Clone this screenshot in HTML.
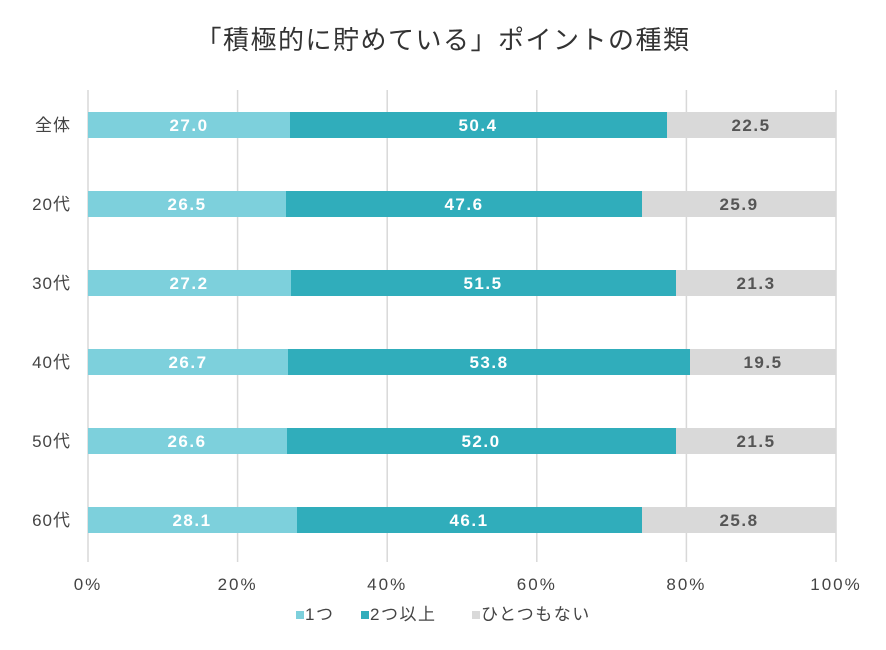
<!DOCTYPE html>
<html><head><meta charset="utf-8"><style>
body{margin:0;background:#fff;}
svg{display:block;font-family:"Liberation Sans","Noto Sans CJK JP",sans-serif;}
</style></head><body>
<svg width="886" height="650" viewBox="0 0 886 650" xmlns="http://www.w3.org/2000/svg">
<rect width="886" height="650" fill="#fff"/>
<text x="443" y="49" text-anchor="middle" font-size="26" fill="#333" letter-spacing="1.5">「積極的に貯めている」ポイントの種類</text>
<g stroke="#d8d8d8" stroke-width="1.5">
<line x1="88" y1="90" x2="88" y2="562"/>
<line x1="237.6" y1="90" x2="237.6" y2="562"/>
<line x1="387.2" y1="90" x2="387.2" y2="562"/>
<line x1="536.8" y1="90" x2="536.8" y2="562"/>
<line x1="686.4" y1="90" x2="686.4" y2="562"/>
<line x1="836" y1="90" x2="836" y2="562"/>
</g>
<g font-size="17" fill="#444" text-anchor="middle" letter-spacing="2">
<text x="88" y="590">0%</text><text x="237.6" y="590">20%</text><text x="387.2" y="590">40%</text><text x="536.8" y="590">60%</text><text x="686.4" y="590">80%</text><text x="836" y="590">100%</text>
</g>
<g font-size="17" fill="#444" text-anchor="end" letter-spacing="1">
<text x="71" y="131">全体</text><text x="71" y="210">20代</text><text x="71" y="289">30代</text><text x="71" y="368">40代</text><text x="71" y="447">50代</text><text x="71" y="526">60代</text>
</g>
<g font-size="17" font-weight="bold" text-anchor="middle" letter-spacing="1.5">
<rect x="88" y="112" width="202" height="26" fill="#7dd0dc"/><rect x="290" y="112" width="377" height="26" fill="#30adbb"/><rect x="667" y="112" width="169" height="26" fill="#d9d9d9"/>
<text x="189" y="131" fill="#fff">27.0</text><text x="478" y="131" fill="#fff">50.4</text><text x="751" y="131" fill="#555">22.5</text>
<rect x="88" y="191" width="198" height="26" fill="#7dd0dc"/><rect x="286" y="191" width="356" height="26" fill="#30adbb"/><rect x="642" y="191" width="194" height="26" fill="#d9d9d9"/>
<text x="187" y="210" fill="#fff">26.5</text><text x="464" y="210" fill="#fff">47.6</text><text x="739" y="210" fill="#555">25.9</text>
<rect x="88" y="270" width="203" height="26" fill="#7dd0dc"/><rect x="291" y="270" width="385" height="26" fill="#30adbb"/><rect x="676" y="270" width="160" height="26" fill="#d9d9d9"/>
<text x="189" y="289" fill="#fff">27.2</text><text x="483" y="289" fill="#fff">51.5</text><text x="756" y="289" fill="#555">21.3</text>
<rect x="88" y="349" width="200" height="26" fill="#7dd0dc"/><rect x="288" y="349" width="402" height="26" fill="#30adbb"/><rect x="690" y="349" width="146" height="26" fill="#d9d9d9"/>
<text x="188" y="368" fill="#fff">26.7</text><text x="489" y="368" fill="#fff">53.8</text><text x="763" y="368" fill="#555">19.5</text>
<rect x="88" y="428" width="199" height="26" fill="#7dd0dc"/><rect x="287" y="428" width="389" height="26" fill="#30adbb"/><rect x="676" y="428" width="160" height="26" fill="#d9d9d9"/>
<text x="187" y="447" fill="#fff">26.6</text><text x="481" y="447" fill="#fff">52.0</text><text x="756" y="447" fill="#555">21.5</text>
<rect x="88" y="507" width="209" height="26" fill="#7dd0dc"/><rect x="297" y="507" width="345" height="26" fill="#30adbb"/><rect x="642" y="507" width="194" height="26" fill="#d9d9d9"/>
<text x="192" y="526" fill="#fff">28.1</text><text x="469" y="526" fill="#fff">46.1</text><text x="739" y="526" fill="#555">25.8</text>
</g>
<g font-size="17" fill="#444" letter-spacing="1.5">
<rect x="296" y="611" width="8" height="8" fill="#7dd0dc"/><text x="305" y="620">1つ</text>
<rect x="361" y="611" width="8" height="8" fill="#30adbb"/><text x="370" y="620">2つ以上</text>
<rect x="472" y="611" width="8" height="8" fill="#d9d9d9"/><text x="481" y="620">ひとつもない</text>
</g>
</svg>
</body></html>
